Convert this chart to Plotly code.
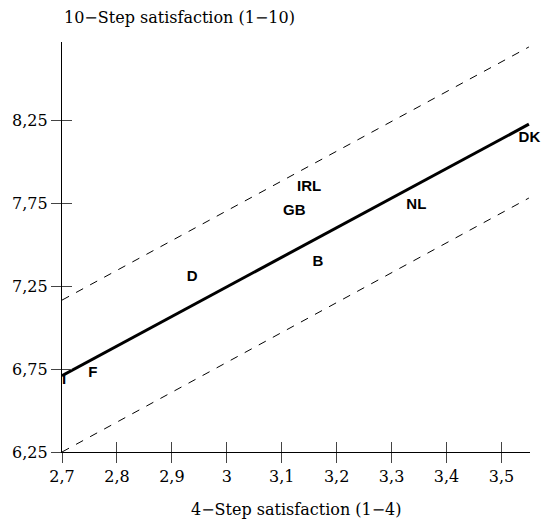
import plotly.graph_objects as go

# Country labels and positions
countries = ["I", "F", "D", "GB", "IRL", "B", "NL", "DK"]
step4 = [2.704, 2.756, 2.937, 3.123, 3.150, 3.166, 3.345, 3.551]
step10 = [6.682, 6.724, 7.302, 7.699, 7.843, 7.393, 7.735, 8.139]

# Regression line and bounds
fit_x = [2.70, 3.55]
fit_y = [6.71, 8.225]
upper_y = [7.165, 8.69]
lower_y = [6.25, 7.78]

# Ticks
xtick_vals = [2.7, 2.8, 2.9, 3.0, 3.1, 3.2, 3.3, 3.4, 3.5]
xtick_text = ["2,7", "2,8", "2,9", "3", "3,1", "3,2", "3,3", "3,4", "3,5"]
ytick_vals = [6.25, 6.75, 7.25, 7.75, 8.25]
ytick_text = ["6,25", "6,75", "7,25", "7,75", "8,25"]

x_range = [2.7, 3.552]
y_range = [6.25, 8.72]

serif = "DejaVu Serif, serif"
label_font = "Liberation Sans Narrow, Liberation Sans, Arial, sans-serif"

fig = go.Figure()
fig.add_trace(go.Scatter(x=fit_x, y=upper_y, mode="lines",
                         line=dict(color="black", width=1, dash="8px,8px"),
                         showlegend=False, hoverinfo="skip"))
fig.add_trace(go.Scatter(x=fit_x, y=lower_y, mode="lines",
                         line=dict(color="black", width=1, dash="8px,8px"),
                         showlegend=False, hoverinfo="skip"))
fig.add_trace(go.Scatter(x=fit_x, y=fit_y, mode="lines",
                         line=dict(color="black", width=3),
                         showlegend=False, hoverinfo="skip"))
fig.add_trace(go.Scatter(x=step4, y=step10, mode="text", text=countries,
                         textfont=dict(family=label_font, size=15, color="black", weight="bold"),
                         textposition="middle center", cliponaxis=False,
                         showlegend=False))

common_x = dict(range=x_range, tickvals=xtick_vals, showgrid=False, zeroline=False)
common_y = dict(range=y_range, tickvals=ytick_vals, showgrid=False, zeroline=False)

fig.update_layout(
    width=547, height=521,
    margin=dict(l=62, r=17, t=42, b=69),
    paper_bgcolor="white", plot_bgcolor="white",
    xaxis=dict(**common_x, ticktext=xtick_text, ticks="outside", ticklen=10,
               tickcolor="#444", tickwidth=1.3, showline=True, linecolor="black",
               linewidth=1.3, tickfont=dict(family=serif, size=16, color="black")),
    yaxis=dict(**common_y, ticktext=ytick_text, ticks="outside", ticklen=10,
               tickcolor="#444", tickwidth=1.3, showline=True, linecolor="black",
               linewidth=1.3, tickfont=dict(family=serif, size=16, color="black")),
    xaxis2=dict(**common_x, overlaying="x", anchor="y", side="bottom", ticks="inside",
                ticklen=10, tickcolor="#444", tickwidth=1.3, showticklabels=False),
    yaxis2=dict(**common_y, overlaying="y", anchor="x", side="left", ticks="inside",
                ticklen=10, tickcolor="#444", tickwidth=1.3, showticklabels=False),
    annotations=[
        dict(text="10\u2212Step satisfaction (1\u221210)", xref="paper", yref="paper",
             x=0, y=1, xanchor="left", yanchor="middle", yshift=25, xshift=0,
             showarrow=False, font=dict(family=serif, size=16, color="black")),
        dict(text="4\u2212Step satisfaction (1\u22124)", xref="paper", yref="paper",
             x=0.5, y=0, xanchor="center", yanchor="middle", yshift=-57,
             showarrow=False, font=dict(family=serif, size=16, color="black")),
    ],
)
# dummy invisible trace to activate overlay axes
fig.add_trace(go.Scatter(x=[2.7], y=[6.25], xaxis="x2", yaxis="y2", mode="markers",
                         marker=dict(opacity=0), showlegend=False, hoverinfo="skip"))

fig.write_html("out.html")
